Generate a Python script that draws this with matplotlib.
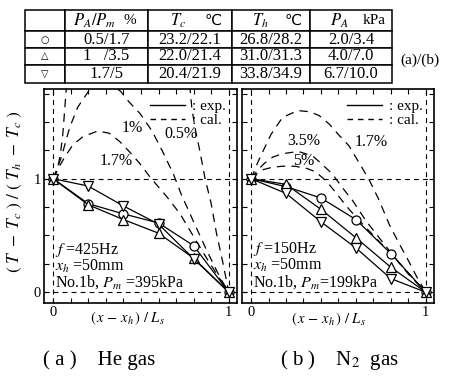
import matplotlib
matplotlib.use('Agg')
import matplotlib.pyplot as plt
from matplotlib.lines import Line2D

plt.rcParams['font.family'] = ['Liberation Serif', 'DejaVu Serif', 'DejaVu Sans']
plt.rcParams['mathtext.fontset'] = 'stix'
plt.rcParams['lines.scale_dashes'] = False

# ---- table data ----
header_vars = ['', r'$P_A/P_m$', r'$T_c$', r'$T_h$', r'$P_A$']
header_units = ['', '%', '℃', '℃', 'kPa']
row_symbols = ['○', '△', '▽']
ratio_labels = ['0.5/1.7', '1   /3.5', '1.7/5']
tc_labels = ['23.2/22.1', '22.0/21.4', '20.4/21.9']
th_labels = ['26.8/28.2', '31.0/31.3', '33.8/34.9']
pa_labels = ['2.0/3.4', '4.0/7.0', '6.7/10.0']

# ---- experimental points (x-xh)/Ls ----
x_exp = [0.0, 0.2, 0.4, 0.6, 0.8, 1.0]
he_circle = [1.0, 0.78, 0.69, 0.61, 0.41, 0.0]
he_up = [1.0, 0.77, 0.64, 0.52, 0.30, 0.0]
he_down = [1.0, 0.935, 0.76, 0.60, 0.295, 0.0]
n2_circle = [1.0, 0.93, 0.83, 0.64, 0.34, 0.0]
n2_up = [1.0, 0.95, 0.73, 0.48, 0.22, 0.0]
n2_down = [1.0, 0.87, 0.62, 0.39, 0.12, 0.0]

# ---- calculated curves ----
he_x_05 = [0, 0.02, 0.04, 0.055, 0.068, 0.08, 0.12, 0.45, 0.74, 0.77, 0.79, 0.81,
           0.836, 0.864, 0.90, 0.93, 0.968, 1.0]
he_y_05 = [1.0, 1.06, 1.2, 1.39, 1.65, 1.9, 2.5, 3.8, 2.3, 1.95, 1.62, 1.43,
           1.24, 1.01, 0.78, 0.52, 0.25, 0.0]
he_x_1 = [0, 0.047, 0.094, 0.14, 0.21, 0.29, 0.384, 0.43, 0.497, 0.563, 0.62,
          0.685, 0.73, 0.80, 0.874, 0.95, 1.0]
he_y_1 = [1.0, 1.19, 1.45, 1.63, 1.79, 1.87, 1.77, 1.68, 1.57, 1.42, 1.25,
          1.04, 0.86, 0.62, 0.37, 0.13, 0.0]
he_x_17 = [0, 0.028, 0.066, 0.113, 0.17, 0.254, 0.32, 0.377, 0.43, 0.49, 0.554,
           0.648, 0.723, 0.80, 0.87, 0.94, 1.0]
he_y_17 = [1.0, 1.09, 1.19, 1.30, 1.37, 1.42, 1.40, 1.33, 1.245, 1.14, 1.01,
           0.84, 0.69, 0.49, 0.31, 0.14, 0.0]
n2_x_17 = [0, 0.04, 0.114, 0.18, 0.267, 0.333, 0.39, 0.448, 0.505, 0.56, 0.63,
           0.676, 0.733, 0.79, 0.847, 0.90, 0.95, 1.0]
n2_y_17 = [1.0, 1.15, 1.39, 1.54, 1.60, 1.59, 1.556, 1.48, 1.38, 1.29, 1.11,
           0.99, 0.81, 0.60, 0.43, 0.28, 0.13, 0.0]
n2_x_35 = [0, 0.04, 0.08, 0.124, 0.18, 0.27, 0.352, 0.39, 0.466, 0.523, 0.58,
           0.657, 0.733, 0.81, 0.90, 1.0]
n2_y_35 = [1.0, 1.08, 1.14, 1.19, 1.22, 1.24, 1.20, 1.15, 1.04, 0.92, 0.81,
           0.63, 0.48, 0.33, 0.16, 0.0]
n2_x_5 = [0, 0.03, 0.07, 0.12, 0.18, 0.25, 0.32, 0.37, 0.43, 0.484, 0.55, 0.62,
          0.70, 0.80, 0.90, 1.0]
n2_y_5 = [1.0, 1.04, 1.08, 1.10, 1.11, 1.11, 1.09, 1.06, 0.98, 0.88, 0.75, 0.63,
          0.50, 0.34, 0.17, 0.0]

he_conditions = ['$f$ =425Hz', '$x_h$ =50mm', 'No.1b, $P_m$ =395kPa']
n2_conditions = ['$f$ =150Hz', '$x_h$ =50mm', 'No.1b, $P_m$=199kPa']

x_ticks = [0, 0.1, 0.2, 0.3, 0.4, 0.5, 0.6, 0.7, 0.8, 0.9, 1.0]
x_tick_labels = ['0', '', '', '', '', '', '', '', '', '', '1']
y_ticks = [0, 0.25, 0.5, 0.75, 1.0, 1.25, 1.5, 1.75]
y_tick_labels = ['0', '', '', '', '1', '', '', '']

CURVE_DASH = (0, (6, 4.5))
REF_DASH = (0, (3.5, 3))

W, H = 453, 385
fig = plt.figure(figsize=(W / 100, H / 100), dpi=100)


def px_rect(x0, y0, x1, y1):
    return [x0 / W, 1 - y1 / H, (x1 - x0) / W, (y1 - y0) / H]


def setup_axes(ax, show_ylabels):
    ax.set_xlim(-0.052, 1.047)
    ax.set_ylim(-0.095, 1.79)
    ax.set_xticks(x_ticks, labels=x_tick_labels)
    ax.set_yticks(y_ticks, labels=y_tick_labels if show_ylabels else [''] * len(y_ticks))
    ax.tick_params(direction='in', top=True, right=True, length=3.5, width=0.8,
                   labelsize=10.5, pad=2)
    for sp in ax.spines.values():
        sp.set_linewidth(1.2)
    for v in (0, 1):
        ax.axhline(v, color='k', lw=0.8, ls=REF_DASH)
        ax.axvline(v, color='k', lw=0.8, ls=REF_DASH)
    ax.legend(handles=[Line2D([], [], color='k', lw=1.0),
                       Line2D([], [], color='k', lw=1.0, ls=(0, (4, 3.5)))],
              labels=[': exp.', ': cal.'], loc='upper right', frameon=False,
              fontsize=11, handlelength=2.3, handletextpad=0.5,
              labelspacing=0.0, borderaxespad=0.3)


def plot_exp(ax, ys, marker):
    ax.plot(x_exp, ys, color='k', lw=0.9, marker=marker, ms=6.5,
            mfc='white', mec='k', mew=0.9, zorder=5)


def cond_text(ax, lines, y_bottom):
    ax.text(0.01, y_bottom, '\n'.join(lines), fontsize=11.5, va='bottom',
            linespacing=0.9)


# ---- (a) He gas ----
ax1 = fig.add_axes(px_rect(44, 89, 237, 303))
setup_axes(ax1, True)
for xs, ys in [(he_x_05, he_y_05), (he_x_1, he_y_1), (he_x_17, he_y_17)]:
    ax1.plot(xs, ys, color='k', lw=0.9, ls=CURVE_DASH)
plot_exp(ax1, he_circle, 'o')
plot_exp(ax1, he_up, '^')
plot_exp(ax1, he_down, 'v')
ax1.text(0.45, 1.45, '1%', fontsize=11.5, ha='center', va='center')
ax1.text(0.73, 1.39, '0.5%', fontsize=11.5, ha='center', va='center')
ax1.text(0.36, 1.155, '1.7%', fontsize=11.5, ha='center', va='center')
cond_text(ax1, he_conditions, 0.01)

# ---- (b) N2 gas ----
ax2 = fig.add_axes(px_rect(242, 89, 434, 303))
setup_axes(ax2, False)
for xs, ys in [(n2_x_17, n2_y_17), (n2_x_35, n2_y_35), (n2_x_5, n2_y_5)]:
    ax2.plot(xs, ys, color='k', lw=0.9, ls=CURVE_DASH)
plot_exp(ax2, n2_circle, 'o')
plot_exp(ax2, n2_up, '^')
plot_exp(ax2, n2_down, 'v')
ax2.text(0.30, 1.33, '3.5%', fontsize=11.5, ha='center', va='center')
ax2.text(0.69, 1.32, '1.7%', fontsize=11.5, ha='center', va='center')
ax2.text(0.30, 1.155, '5%', fontsize=11.5, ha='center', va='center')
cond_text(ax2, n2_conditions, 0.015)

# axis labels and captions
fig.text(15 / W, 1 - 192 / H, r'$(\ T\ -\ T_c\ )\ /\ (\ T_h\ -\ T_c\ )$',
         rotation=90, ha='center', va='center', fontsize=12.5)
xlab = r'$(\,x\,-\,x_h\,)\ /\ L_s$'
fig.text(127 / W, 1 - 318 / H, xlab, ha='center', va='center', fontsize=10.5)
fig.text(328 / W, 1 - 319 / H, xlab, ha='center', va='center', fontsize=10.5)
fig.text(43 / W, 1 - 360 / H, '( a )    He gas', va='center', fontsize=15)
fig.text(280 / W, 1 - 360 / H, '( b )    N$_2$  gas', va='center', fontsize=15)
fig.text(400 / W, 1 - 60 / H, '(a)/(b)', va='center', fontsize=11)

# ---- table ----
tab_ax = fig.add_axes(px_rect(25, 10, 392, 83))
tab_ax.axis('off')
rows = [[s, r, c, h, p] for s, r, c, h, p in
        zip(row_symbols, ratio_labels, tc_labels, th_labels, pa_labels)]
col_w = [40, 83, 84, 78, 82]
row_h = [21, 17, 17, 18]
tbl = tab_ax.table(cellText=rows, colLabels=[''] * len(col_w),
                   colWidths=[w / sum(col_w) for w in col_w],
                   cellLoc='center', bbox=[0, 0, 1, 1])
tbl.auto_set_font_size(False)
tbl.set_fontsize(12)
for (r, c), cell in tbl.get_celld().items():
    cell.set_height(row_h[r])
    cell.set_linewidth(1.1)
    if c == 0 and r > 0:
        cell.get_text().set_fontfamily('DejaVu Sans')
        cell.get_text().set_fontsize(7)

# header texts (unit sign drawn separately so that ℃ has a glyph)
edge = 0
hy = 1 - (row_h[0] / 2) / sum(row_h)
for w, v, u in zip(col_w, header_vars, header_units):
    x0 = edge / sum(col_w)
    cw = w / sum(col_w)
    if v:
        tab_ax.text(x0 + 0.36 * cw, hy, v, fontsize=12, ha='center', va='center')
        fam = ['DejaVu Sans'] if u == '℃' else None
        tab_ax.text(x0 + 0.78 * cw, hy, u, fontsize=11, ha='center', va='center',
                    family=fam)
    edge += w

fig.savefig('out.png', dpi=100)
